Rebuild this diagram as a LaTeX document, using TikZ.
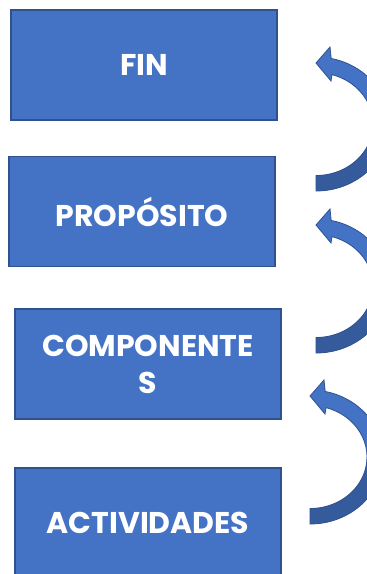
\documentclass[tikz,border=0pt]{standalone}
\usepackage{fontspec}
\setmainfont{Poppins}
\usepackage{tikz}
\usetikzlibrary{positioning}
\definecolor{boxblue}{HTML}{4472C4}
\definecolor{boxline}{HTML}{2F528F}
\definecolor{shadeblue}{HTML}{365B9D}
\newcommand{\bendarrow}{(0,-67) arc[start angle=-90, end angle=78, x radius=73, y radius=67]
    -- (14,77) -- (0,61) -- (15,43) -- (16,49.4)
    arc[start angle=73.7, end angle=-90, x radius=57, y radius=51.5] -- cycle}
\tikzset{
    levelbox/.style = {
        rectangle,
        align=center,
        fill=boxblue,
        draw=boxline,
        line width=1.5pt,
        text=white,
        font=\fontsize{30}{37}\selectfont\bfseries,
        minimum width=266pt,
        minimum height=110pt,
        inner sep=0pt
    },
    uparrow/.pic = {
        \fill[boxblue] \bendarrow;
        \begin{scope}
            \clip (-10,-80) rectangle (90,0);
            \fill[shadeblue] \bendarrow;
        \end{scope}
        \draw[boxline, line width=0.8pt] \bendarrow;
    }
}

\begin{document}
\begin{tikzpicture}[x=1pt, y=1pt]
    \path[use as bounding box, fill=white] (0,0) rectangle (367,-574);
    \node [levelbox] (fin) at (144,-65) {FIN};
    \node [levelbox, below=35pt of fin, xshift=-2pt] (proposito) {PROPÓSITO};
    \node [levelbox, below=41pt of proposito, xshift=6pt] (componentes) {COMPONENTE\\S};
    \node [levelbox, below=47.5pt of componentes] (actividades) {ACTIVIDADES};
    \pic at (316,-124) {uparrow};
    \pic at (316,-286) {uparrow};
    \pic at (310,-457) {uparrow};
\end{tikzpicture}
\end{document}
